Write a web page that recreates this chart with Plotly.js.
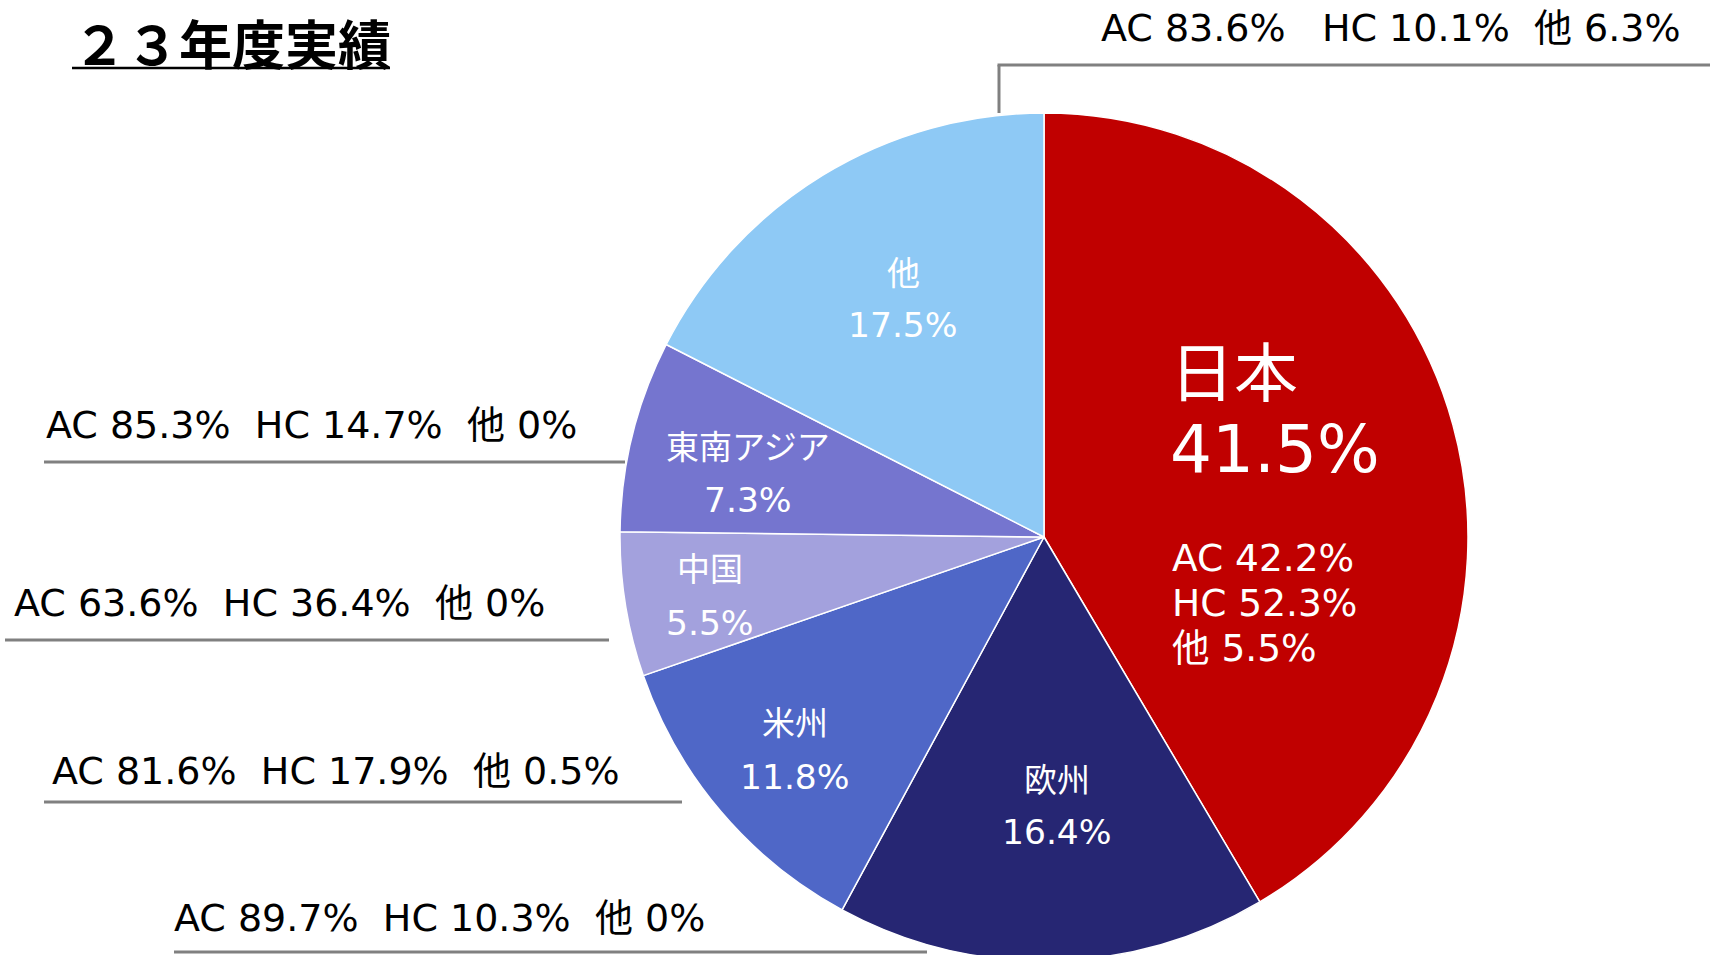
<!DOCTYPE html>
<html>
<head>
<meta charset="utf-8">
<script src="https://cdn.plot.ly/plotly-3.0.1.min.js"></script>
<style>
html,body{margin:0;padding:0;overflow:hidden;background:#fff;}
#chart{width:1710px;height:980px;}
</style>
</head>
<body>
<div id="chart"></div>
<script>
// ---- data ----
const regions = ['日本', '欧州', '米州', '中国', '東南アジア', '他'];
const shares = [41.5, 16.4, 11.8, 5.5, 7.3, 17.5];
const acShare = [42.2, 89.7, 81.6, 63.6, 85.3, 83.6];
const hcShare = [52.3, 10.3, 17.9, 36.4, 14.7, 10.1];
const otherShare = [5.5, 0, 0.5, 0, 0, 6.3];
const sliceColors = ['#C00000', '#262673', '#4F67C7', '#A3A1DD', '#7575CF', '#8EC9F5'];
const titleText = '２３年度実績';

// ---- layout helpers ----
const W = 1710, H = 980;
const px = x => x / W;
const py = y => 1 - y / H;
const fmt = v => (v === 0 ? '0' : v.toFixed(1)) + '%';
const latin = 'DejaVu Sans, Noto Sans CJK JP, sans-serif';
const S = '\u00a0\u00a0';

// pie geometry (pixels)
const cx = 1044, cy = 537, r = 424;

// inside label positions (pixels) for regions index 1..5
const inPos = {1: [1057, 780, 832], 2: [795, 723, 777], 3: [710, 569, 623], 4: [748, 447, 500], 5: [903, 273, 325]};
// outer label positions: [leftX, centerY]
const outPos = {1: [172, 918], 2: [50, 771], 3: [12, 603], 4: [44, 425], 5: [1099, 28]};

const ann = (text, x, y, xanchor, size, color, extra) => Object.assign({
  text: text, x: px(x), y: py(y), xref: 'paper', yref: 'paper', xanchor: xanchor, yanchor: 'middle',
  showarrow: false, font: {family: latin, size: size, color: color}}, extra || {});

const annotations = [];
annotations.push(ann('<b>' + titleText + '</b>', 71, 42, 'left', 53, '#000',
  {font: {family: 'Noto Sans CJK JP, sans-serif', size: 53, color: '#000'}}));

// Japan block
annotations.push(ann(regions[0], 1168, 374, 'left', 64, '#fff'));
annotations.push(ann(shares[0].toFixed(1) + '%', 1168, 450, 'left', 66, '#fff'));
annotations.push(ann('AC ' + fmt(acShare[0]), 1170, 558, 'left', 37.5, '#fff'));
annotations.push(ann('HC ' + fmt(hcShare[0]), 1170, 603, 'left', 37.5, '#fff'));
annotations.push(ann('他 ' + fmt(otherShare[0]), 1170, 648, 'left', 37.5, '#fff'));

for (let i = 1; i < regions.length; i++) {
  const p = inPos[i];
  annotations.push(ann(regions[i], p[0], p[1], 'center', 33, '#fff'));
  annotations.push(ann(shares[i].toFixed(1) + '%', p[0], p[2], 'center', 34.5, '#fff'));
  const o = outPos[i];
  const gap1 = (i === 5) ? S + '\u00a0' : S;
  annotations.push(ann('AC ' + fmt(acShare[i]) + gap1 + 'HC ' + fmt(hcShare[i]) + S + '他 ' + fmt(otherShare[i]),
    o[0], o[1], 'left', 38, '#000'));
}

const lineStyle = {color: '#808080', width: 3};
const seg = (x0, y0, x1, y1, style) => ({type: 'line', xref: 'paper', yref: 'paper',
  x0: px(x0), x1: px(x1), y0: py(y0), y1: py(y1), line: style || lineStyle});
const shapes = [
  seg(72, 68, 390, 68, {color: '#000', width: 2.5}),
  seg(999, 113, 999, 65),
  seg(997.5, 65, 1710, 65),
  seg(44, 462, 625, 462),
  seg(5, 640, 609, 640),
  seg(44, 802, 682, 802),
  seg(174, 952, 927, 952)
];

const trace = {
  type: 'pie',
  labels: regions,
  values: shares,
  sort: false,
  direction: 'clockwise',
  rotation: 0,
  textinfo: 'none',
  hoverinfo: 'label+percent',
  marker: {colors: sliceColors, line: {color: '#ffffff', width: 1.5}},
  domain: {x: [px(cx - r), px(cx + r)], y: [py(cy + r), py(cy - r)]},
  showlegend: false
};

Plotly.newPlot('chart', [trace], {
  width: W, height: H,
  margin: {l: 0, r: 0, t: 0, b: 0},
  paper_bgcolor: '#fff',
  showlegend: false,
  annotations: annotations,
  shapes: shapes
}, {displayModeBar: false, staticPlot: true});
</script>
</body>
</html>
